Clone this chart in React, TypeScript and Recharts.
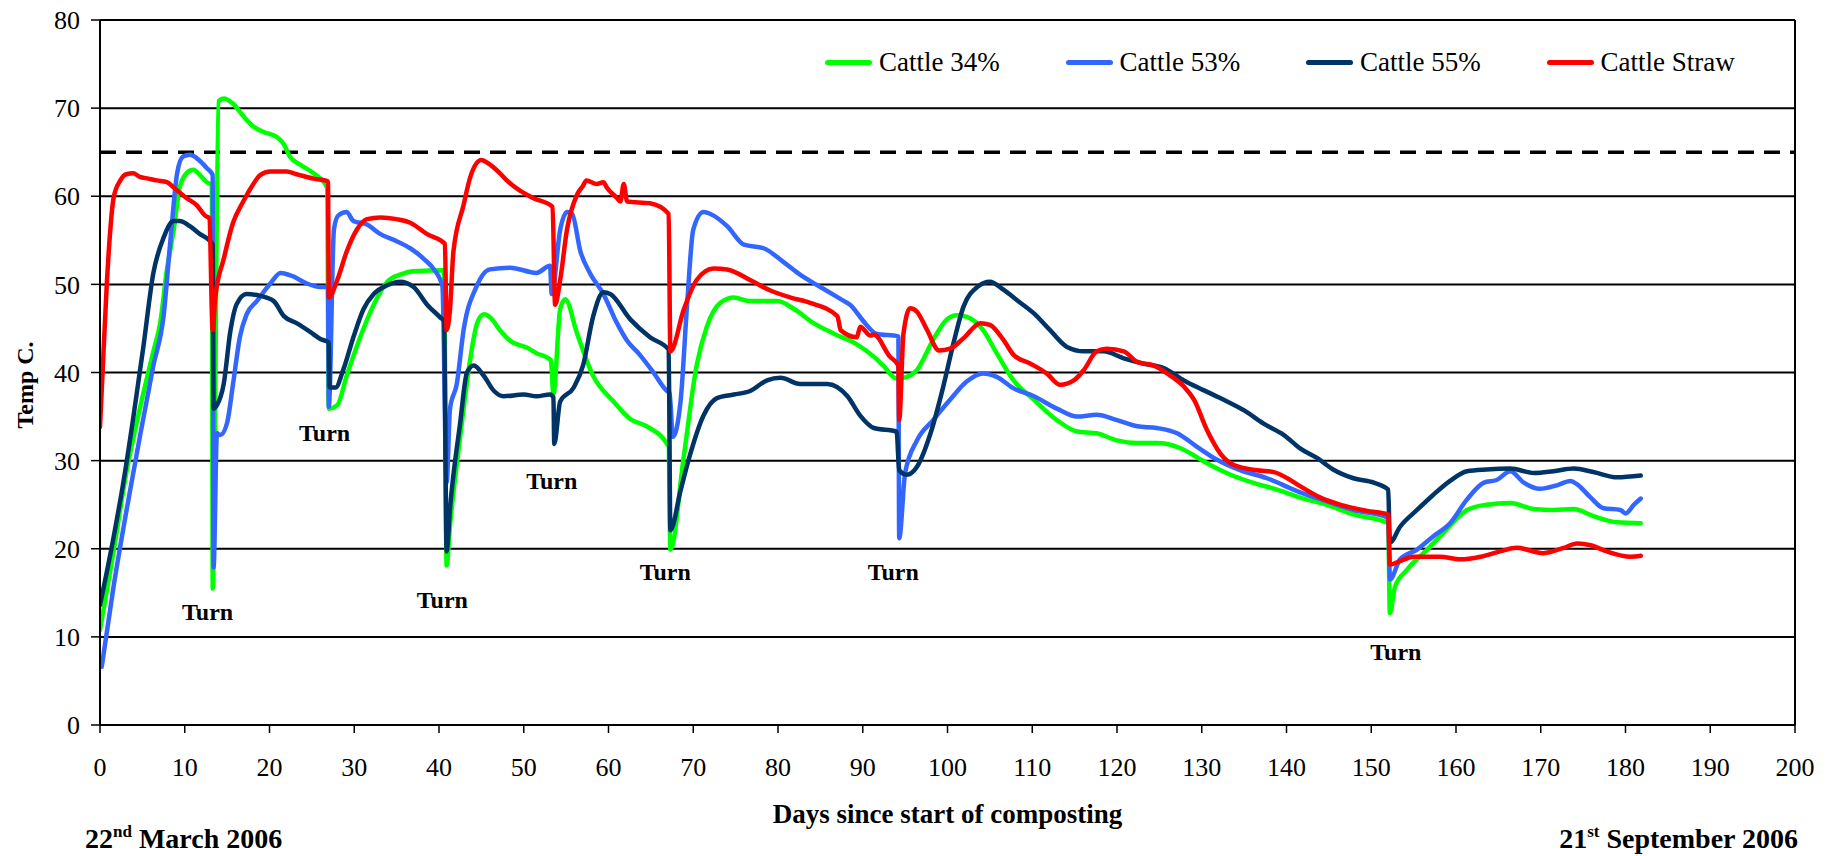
import React from "react";
import {
  ComposedChart, Line, XAxis, YAxis, CartesianGrid, ReferenceLine, ReferenceDot, Legend,
} from "recharts";

type Pt = [number, number];

// days since start, temperature
const cattle34: Pt[] = [
  [0, 10.8], [1.6, 19.7], [3.1, 28.6], [4.7, 35.9], [6.3, 42.4], [7.1, 45.6], [7.9, 51.7], [8.7, 56.2],
  [9.4, 61.0], [10.2, 62.6], [11.0, 63.0], [11.8, 62.4], [12.6, 61.6], [13.2, 61.2], [13.3, 15.5], [14.0, 70.8],
  [14.6, 71.1], [15.7, 70.5], [16.9, 69.1], [18.1, 67.9], [19.3, 67.3], [20.9, 66.7], [21.7, 65.9], [22.4, 64.5],
  [23.6, 63.6], [25.2, 62.6], [26.8, 61.0], [27.0, 35.9], [28.0, 36.3], [29.1, 39.6], [30.7, 44.0], [32.3, 47.7],
  [33.9, 50.3], [35.4, 51.1], [37.0, 51.5], [40.6, 51.6], [40.9, 18.1], [41.3, 22.6], [42.5, 32.7], [43.7, 41.6],
  [44.5, 45.6], [45.3, 46.6], [46.1, 46.2], [47.2, 44.8], [48.4, 43.6], [50.4, 42.8], [51.5, 42.2], [53.2, 41.4],
  [53.5, 37.5], [54.3, 47.2], [54.9, 48.3], [56.3, 44.4], [58.2, 39.6], [60.6, 36.7], [62.6, 34.7], [64.5, 33.9],
  [67.1, 31.6], [67.3, 19.9], [68.9, 30.6], [70.4, 40.8], [71.6, 45.2], [73.2, 47.9], [74.8, 48.5], [76.7, 48.1],
  [79.9, 48.1], [81.9, 47.2], [84.2, 45.6], [86.6, 44.4], [89.3, 43.2], [91.3, 41.8], [92.4, 40.8], [94.0, 39.3],
  [95.2, 39.5], [96.4, 40.3], [98.3, 43.7], [99.9, 46.0], [101.1, 46.5], [102.3, 46.3], [104.2, 44.8], [105.8, 42.2],
  [107.8, 39.1], [110.2, 36.9], [112.9, 34.6], [115.3, 33.3], [117.6, 33.1], [120.0, 32.3], [122.4, 32.0], [124.7, 32.0],
  [127.5, 31.4], [129.4, 30.4], [131.0, 29.5], [133.4, 28.4], [135.7, 27.6], [138.9, 26.7], [141.6, 25.8], [144.7, 25.0],
  [147.9, 23.9], [152.0, 22.9], [152.2, 12.7], [152.8, 15.7], [154.2, 17.6], [156.6, 19.9], [158.9, 22.2], [161.3, 24.4],
  [163.6, 25.0], [166.4, 25.2], [169.2, 24.5], [171.5, 24.4], [173.9, 24.5], [176.2, 23.7], [179.0, 23.0], [181.8, 22.9],
];

const cattle53: Pt[] = [
  [0.2, 6.6], [1.6, 15.7], [3.1, 24.2], [4.7, 32.7], [6.3, 40.8], [7.5, 46.4], [8.3, 54.9], [9.1, 62.6],
  [9.8, 64.5], [10.6, 64.7], [11.8, 64.0], [12.6, 63.2], [13.3, 62.4], [13.4, 17.9], [13.8, 33.1], [14.2, 32.9],
  [15.0, 34.3], [15.7, 38.7], [16.5, 44.0], [17.3, 46.6], [18.5, 48.1], [20.1, 50.1], [21.3, 51.3], [22.8, 50.9],
  [24.4, 50.1], [26.0, 49.7], [26.9, 49.7], [27.0, 36.1], [27.6, 56.2], [28.1, 57.8], [29.1, 58.2], [29.9, 57.2],
  [31.5, 56.8], [33.1, 55.7], [35.0, 54.9], [36.6, 54.1], [38.2, 52.9], [39.4, 51.7], [40.4, 49.8], [40.9, 27.5],
  [41.3, 35.9], [42.1, 38.7], [42.9, 44.8], [44.4, 49.7], [46.0, 51.7], [48.4, 51.9], [51.5, 51.3], [53.1, 52.1],
  [53.3, 48.9], [54.3, 56.2], [55.1, 58.2], [55.7, 58.0], [56.7, 53.7], [57.8, 51.3], [59.4, 48.9], [61.0, 45.6],
  [62.2, 43.6], [63.7, 42.0], [65.3, 40.0], [66.9, 37.9], [67.2, 37.7], [67.6, 32.7], [68.5, 36.7], [69.3, 48.1],
  [70.0, 56.2], [71.2, 58.2], [72.4, 57.8], [74.0, 56.6], [76.0, 54.5], [78.3, 54.1], [80.7, 52.5], [82.6, 51.1],
  [85.0, 49.7], [87.8, 48.1], [88.5, 47.7], [90.1, 45.8], [91.6, 44.4], [94.2, 44.1], [94.3, 21.2], [95.0, 28.6],
  [96.4, 32.3], [98.3, 34.6], [100.3, 36.9], [102.3, 39.0], [104.2, 39.9], [105.8, 39.5], [107.8, 38.2], [110.2, 37.3],
  [112.9, 35.9], [115.3, 35.0], [117.6, 35.2], [120.0, 34.6], [122.4, 33.9], [124.7, 33.7], [127.1, 33.1], [129.4, 31.6],
  [131.8, 30.1], [134.6, 28.9], [137.7, 28.0], [141.6, 26.4], [144.7, 25.4], [147.9, 24.4], [152.0, 23.5], [152.2, 16.5],
  [153.4, 18.8], [155.4, 19.9], [157.3, 21.4], [159.3, 22.9], [161.3, 25.6], [163.3, 27.5], [164.8, 27.8], [166.4, 28.8],
  [168.0, 27.5], [169.9, 26.8], [171.9, 27.2], [173.5, 27.7], [174.3, 27.3], [175.9, 25.8], [177.4, 24.6], [179.4, 24.4],
  [180.0, 24.0], [181.0, 25.0], [181.8, 25.7],
];

const cattle55: Pt[] = [
  [0, 13.6], [1.6, 21.3], [2.8, 27.8], [3.9, 34.7], [5.1, 42.8], [6.3, 51.3], [7.5, 55.3], [8.7, 57.2],
  [9.4, 57.2], [10.6, 56.6], [11.8, 55.7], [13.0, 54.9], [13.3, 54.5], [13.4, 35.9], [13.8, 36.3], [14.6, 38.7],
  [15.4, 44.8], [16.1, 47.7], [17.3, 48.9], [18.9, 48.7], [20.5, 48.1], [21.7, 46.4], [23.2, 45.6], [24.8, 44.6],
  [26.0, 43.8], [27.0, 43.4], [27.1, 38.3], [27.8, 38.3], [28.7, 40.3], [29.9, 44.0], [31.1, 47.2], [32.3, 48.9],
  [33.9, 49.9], [35.4, 50.3], [37.0, 49.7], [38.6, 47.7], [40.2, 46.2], [40.6, 45.8], [40.9, 19.7], [41.3, 24.6],
  [42.5, 34.3], [43.3, 40.0], [44.1, 40.8], [45.3, 39.6], [46.5, 37.9], [47.6, 37.3], [50.0, 37.5], [51.5, 37.3],
  [53.1, 37.5], [53.5, 37.2], [53.6, 31.9], [54.3, 36.7], [55.9, 38.3], [57.0, 40.8], [58.2, 46.4], [59.4, 49.1],
  [60.2, 48.9], [62.6, 46.0], [64.9, 44.0], [67.1, 42.6], [67.3, 22.1], [68.5, 26.6], [69.6, 30.6], [71.2, 35.1],
  [72.8, 37.1], [74.8, 37.5], [76.7, 37.9], [78.7, 39.1], [80.3, 39.4], [82.6, 38.7], [85.8, 38.7], [88.2, 37.3],
  [89.7, 35.1], [91.3, 33.7], [94.0, 33.3], [94.3, 28.9], [95.2, 28.4], [96.4, 29.3], [98.0, 33.1], [99.5, 38.4],
  [100.7, 43.3], [101.9, 47.5], [103.5, 49.7], [105.0, 50.3], [106.6, 49.4], [108.2, 48.2], [110.2, 46.7], [112.1, 44.8],
  [114.1, 42.9], [116.1, 42.4], [118.4, 42.4], [120.8, 41.6], [123.1, 41.0], [125.5, 40.5], [127.9, 39.1], [130.2, 38.0],
  [132.6, 36.9], [135.0, 35.7], [137.3, 34.2], [139.7, 32.9], [141.6, 31.4], [143.6, 30.3], [145.5, 29.0], [147.9, 28.0],
  [150.3, 27.5], [152.0, 26.7], [152.2, 20.7], [153.4, 22.5], [155.4, 24.4], [157.3, 26.1], [159.3, 27.7], [161.3, 28.8],
  [163.6, 29.0], [166.4, 29.1], [169.2, 28.6], [171.5, 28.8], [173.9, 29.1], [176.2, 28.7], [179.0, 28.1], [181.8, 28.3],
];

const cattleStraw: Pt[] = [
  [0, 33.8], [0.4, 42.0], [0.8, 50.0], [1.2, 56.0], [1.6, 59.8], [2.4, 61.8], [3.1, 62.5], [3.9, 62.6],
  [4.7, 62.2], [5.7, 62.0], [6.7, 61.8], [7.9, 61.6], [8.7, 61.0], [10.2, 59.8], [11.4, 59.0], [12.4, 57.8],
  [12.9, 57.5], [13.3, 44.8], [13.6, 48.5], [14.6, 52.9], [15.7, 57.0], [16.9, 59.4], [18.1, 61.4], [18.9, 62.4],
  [20.1, 62.8], [22.0, 62.8], [23.2, 62.5], [25.2, 62.0], [26.9, 61.7], [27.0, 48.5], [28.0, 50.5], [29.1, 53.7],
  [30.3, 56.2], [31.5, 57.4], [33.1, 57.6], [35.0, 57.4], [36.6, 57.0], [38.6, 55.7], [40.7, 54.6], [40.9, 44.8],
  [41.3, 47.2], [41.7, 53.7], [42.9, 59.0], [43.7, 62.2], [45.0, 64.1], [45.7, 63.8], [47.2, 62.6], [48.0, 61.8],
  [49.6, 60.6], [51.1, 59.8], [53.4, 58.8], [53.7, 47.7], [54.3, 50.5], [55.1, 56.2], [56.3, 60.2], [57.0, 61.2],
  [57.4, 61.8], [58.6, 61.4], [59.4, 61.6], [59.8, 61.0], [61.0, 59.8], [61.4, 59.4], [61.8, 61.4], [62.2, 59.4],
  [64.9, 59.2], [67.1, 58.0], [67.3, 42.4], [68.9, 47.2], [70.4, 50.5], [72.4, 51.8], [74.0, 51.7], [76.7, 50.5],
  [79.1, 49.3], [81.5, 48.5], [83.8, 47.9], [87.0, 46.4], [87.4, 44.8], [89.3, 44.0], [89.7, 45.2], [90.9, 44.2],
  [91.3, 44.3], [93.2, 41.8], [94.2, 40.8], [94.3, 34.6], [94.8, 44.4], [95.6, 47.3], [96.4, 46.9], [97.6, 44.8],
  [99.0, 42.5], [100.3, 42.7], [101.9, 43.9], [103.9, 45.6], [105.0, 45.4], [106.6, 43.7], [107.8, 42.0], [109.8, 41.0],
  [111.7, 39.9], [113.3, 38.6], [114.9, 39.1], [116.1, 40.3], [117.6, 42.4], [118.8, 42.7], [120.8, 42.4], [122.4, 41.2],
  [124.3, 40.8], [125.9, 39.9], [127.9, 38.4], [129.1, 36.9], [130.6, 33.5], [132.2, 30.8], [133.8, 29.5], [136.5, 28.9],
  [138.5, 28.7], [140.1, 28.0], [141.6, 27.1], [144.0, 25.8], [146.3, 25.0], [149.5, 24.3], [152.0, 23.9], [152.2, 18.2],
  [153.4, 18.6], [155.0, 19.1], [158.1, 19.1], [160.5, 18.8], [162.9, 19.1], [165.2, 19.7], [167.2, 20.1], [170.3, 19.5],
  [172.7, 20.1], [174.3, 20.6], [175.9, 20.4], [177.8, 19.7], [180.6, 19.1], [181.8, 19.2],
];

const seriesNames = ["Cattle 34%", "Cattle 53%", "Cattle 55%", "Cattle Straw"];
const seriesColors = ["#00FF00", "#3366FF", "#003366", "#FF0000"];
const seriesData = [cattle34, cattle53, cattle55, cattleStraw];

const xTicks = [0, 10, 20, 30, 40, 50, 60, 70, 80, 90, 100, 110, 120, 130, 140, 150, 160, 170, 180, 190, 200];
const yTicks = [0, 10, 20, 30, 40, 50, 60, 70, 80];

// "Turn" notes: day and temperature of the label baseline
const turnDays = [12.7, 26.5, 40.4, 53.3, 66.7, 93.6, 152.9];
const turnTemps = [11.9, 32.2, 13.3, 26.8, 16.5, 16.5, 7.4];

const thresholdTemp = 65;

const FONT = "Liberation Serif, Times New Roman, serif";
const W = 1828;
const H = 856;
const M = { top: 20, right: 41, bottom: 71, left: 32 };
const Y_AXIS_W = 60;
const X_AXIS_H = 60;
const PLOT_LEFT = M.left + Y_AXIS_W;
const PLOT_W = W - M.right - PLOT_LEFT;

const toRows = (pts: Pt[]) => pts.map(([x, y]) => ({ x, y }));

const LegendBox = () => (
  <div style={{ position: "relative", height: 34, fontFamily: FONT, fontSize: 27, color: "#000" }}>
    {seriesNames.map((name, i) => (
      <div
        key={name}
        style={{ position: "absolute", left: i * 240.5, top: 0, height: 34, display: "flex", alignItems: "center", whiteSpace: "nowrap" }}
      >
        <span style={{ display: "inline-block", width: 47, height: 5, borderRadius: 3, background: seriesColors[i], marginRight: 7 }} />
        <span>{name}</span>
      </div>
    ))}
  </div>
);

const XTitle = () => (
  <g fontFamily={FONT} fontWeight="bold" fill="#000">
    <text x={PLOT_LEFT + PLOT_W / 2} y={823} fontSize={27} textAnchor="middle">
      Days since start of composting
    </text>
    <text x={77} y={848} fontSize={28} textAnchor="start">
      22<tspan dy={-11} fontSize={17}>nd</tspan>
      <tspan dy={11} fontSize={28}> March 2006</tspan>
    </text>
    <text x={1790} y={848} fontSize={28} textAnchor="end">
      21<tspan dy={-11} fontSize={17}>st</tspan>
      <tspan dy={11} fontSize={28}> September 2006</tspan>
    </text>
  </g>
);

const YTitle = () => (
  <text
    x={25}
    y={385}
    transform="rotate(-90, 25, 385)"
    textAnchor="middle"
    fontFamily={FONT}
    fontWeight="bold"
    fontSize={24}
    fill="#000"
  >
    Temp C.
  </text>
);

const TurnNote = (props: any) => (
  <text x={props.cx} y={props.cy} textAnchor="middle" fontFamily={FONT} fontWeight="bold" fontSize={24} fill="#000">
    Turn
  </text>
);

export default function App() {
  const tickStyle = { fontSize: 26, fontFamily: FONT, fill: "#000" };
  return (
    <div style={{ width: W, height: H, position: "relative", marginTop: -8 }}>
      <ComposedChart width={W} height={H} margin={M} style={{ fontFamily: FONT }}>
        <CartesianGrid vertical={false} stroke="#000" strokeWidth={2} />
        <XAxis
          type="number"
          dataKey="x"
          domain={[0, 200]}
          ticks={xTicks}
          interval={0}
          allowDataOverflow
          height={X_AXIS_H}
          tickSize={8}
          tickMargin={25}
          tick={tickStyle}
          axisLine={{ stroke: "#000", strokeWidth: 2 }}
          tickLine={{ stroke: "#000", strokeWidth: 1.5 }}
          label={<XTitle />}
        />
        <YAxis
          type="number"
          domain={[0, 80]}
          ticks={yTicks}
          interval={0}
          allowDataOverflow
          width={Y_AXIS_W}
          tickSize={9}
          tickMargin={11}
          tick={tickStyle}
          axisLine={{ stroke: "#000", strokeWidth: 2 }}
          tickLine={{ stroke: "#000", strokeWidth: 1.5 }}
          label={<YTitle />}
        />
        <ReferenceLine x={200} stroke="#000" strokeWidth={2} />
        <ReferenceLine y={80} stroke="#000" strokeWidth={2} />
        <ReferenceLine y={thresholdTemp} stroke="#000" strokeWidth={3.5} strokeDasharray="16 10" />
        {seriesData.map((pts, i) => (
          <Line
            key={seriesNames[i]}
            name={seriesNames[i]}
            data={toRows(pts)}
            dataKey="y"
            type="monotone"
            stroke={seriesColors[i]}
            strokeWidth={4.5}
            strokeLinejoin="round"
            strokeLinecap="round"
            dot={false}
            activeDot={false}
            isAnimationActive={false}
          />
        ))}
        {turnDays.map((d, i) => (
          <ReferenceDot key={i} x={d} y={turnTemps[i]} r={0} shape={<TurnNote />} />
        ))}
        <Legend
          layout="horizontal"
          verticalAlign="middle"
          align="center"
          content={<LegendBox />}
          wrapperStyle={{ left: 817, top: 45, width: 980, height: 34 }}
        />
      </ComposedChart>
    </div>
  );
}
